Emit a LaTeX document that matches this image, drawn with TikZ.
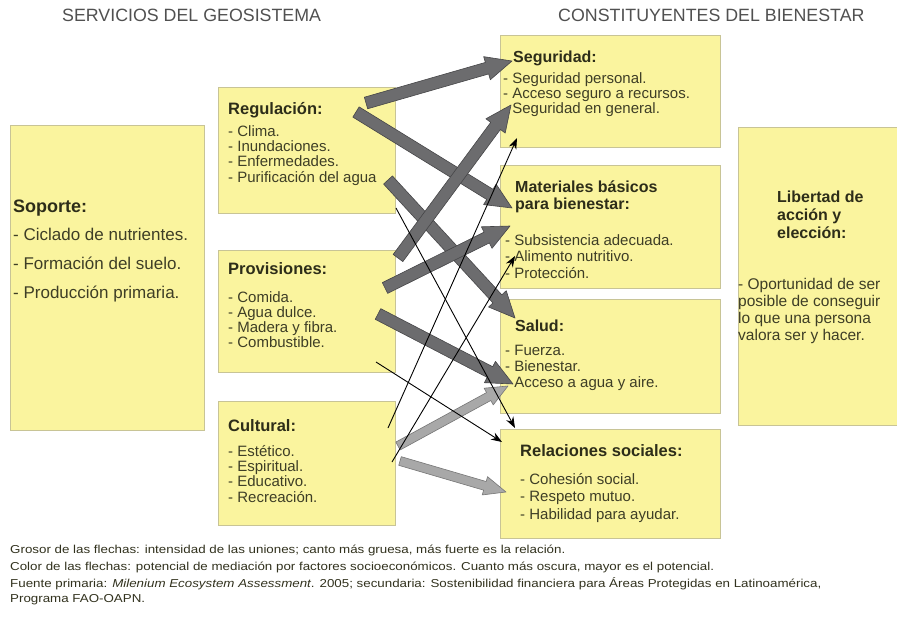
\documentclass[tikz,border=0pt]{standalone}
\usepackage{fontspec}
\usepackage{graphicx}
\setmainfont{Liberation Sans}
\usetikzlibrary{calc,arrows.meta}
\definecolor{boxfill}{RGB}{250,244,158}
\definecolor{boxline}{RGB}{200,196,150}
\definecolor{ttl}{RGB}{45,45,25}
\definecolor{itm}{RGB}{62,62,38}
\definecolor{hdr}{RGB}{80,80,80}
\definecolor{darkfill}{RGB}{108,108,110}
\definecolor{darkline}{RGB}{70,70,72}
\definecolor{lightfill}{RGB}{168,168,168}
\definecolor{lightline}{RGB}{118,118,118}
\newcommand\blk[3]{\fontsize{#1}{#2}\selectfont\begin{tabular}[t]{@{}l@{}}#3\end{tabular}}
\newcommand\foottext[1]{\scalebox{1.16}[1]{#1}}
\newcommand\fatarrow[6]{%
  \coordinate (fa-h) at ($(#2)!#5!(#1)$);
  \draw[#6] ($(#1)!#3!90:(#2)$) -- ($(fa-h)!#3!90:(#2)$) -- ($(fa-h)!#4!90:(#2)$) -- (#2) -- ($(fa-h)!#4!-90:(#2)$) -- ($(fa-h)!#3!-90:(#2)$) -- ($(#1)!#3!-90:(#2)$) -- cycle;}
\begin{document}
\begin{tikzpicture}[x=1pt,y=-1pt,
  box/.style={draw=boxline, fill=boxfill, line width=0.8pt, anchor=north west, inner sep=0pt},
  ttlnode/.style={anchor=base west, inner sep=0pt, text=ttl, font=\fontsize{16}{17}\selectfont\bfseries},
  itmnode/.style={anchor=base west, inner sep=0pt, text=itm},
  hdrnode/.style={anchor=base west, inner sep=0pt, text=hdr, font=\fontsize{17.8}{19}\selectfont},
  footnode/.style={anchor=base west, inner sep=0pt, text=itm!80!black, font=\fontsize{11.5}{13}\selectfont},
  thickarr/.style={fill=darkfill, draw=darkline, line width=0.6pt, line join=round},
  midarr/.style={fill=lightfill, draw=lightline, line width=0.6pt, line join=round},
  thinarr/.style={draw=black, line width=0.9pt, -{Stealth[length=11pt,width=8pt]}}]
\clip (0,0) rectangle (897,621);
\fill[white] (0,0) rectangle (897,621);

% headers
\node[hdrnode] (h1) at (62,21) {SERVICIOS DEL GEOSISTEMA};
\node[hdrnode] (h2) at (558,21) {CONSTITUYENTES DEL BIENESTAR};

% boxes
\node[box, minimum width=194, minimum height=305] (sop) at (10,125) {};
\node[box, minimum width=177, minimum height=126] (reg) at (218,87) {};
\node[box, minimum width=177, minimum height=122] (prov) at (218,250) {};
\node[box, minimum width=177, minimum height=124] (cult) at (218,401) {};
\node[box, minimum width=220, minimum height=112] (seg) at (500,35) {};
\node[box, minimum width=220, minimum height=123] (mat) at (500,165) {};
\node[box, minimum width=220, minimum height=114] (sal) at (500,299) {};
\node[box, minimum width=220, minimum height=109] (rel) at (500,429) {};
\node[box, minimum width=180, minimum height=298] (lib) at (738,127) {};

% texts
\node[ttlnode, font=\fontsize{18}{19}\selectfont\bfseries] (sopT) at (13,212) {Soporte:};
\node[itmnode] (sopI) at (13,240) {\blk{17}{29}{- Ciclado de nutrientes.\\- Formación del suelo.\\- Producción primaria.}};

\node[ttlnode, font=\fontsize{16.5}{17}\selectfont\bfseries] (regT) at (228,114) {Regulación:};
\node[itmnode] (regI) at (228,136) {\blk{15}{14.7}{- Clima.\\- Inundaciones.\\- Enfermedades.\\- Purificación del agua}};

\node[ttlnode, font=\fontsize{16.5}{17}\selectfont\bfseries] (provT) at (228,274) {Provisiones:};
\node[itmnode] (provI) at (228,302) {\blk{15}{14.7}{- Comida.\\- Agua dulce.\\- Madera y fibra.\\- Combustible.}};

\node[ttlnode, font=\fontsize{16.5}{17}\selectfont\bfseries] (cultT) at (228,431) {Cultural:};
\node[itmnode] (cultI) at (228,456) {\blk{15}{14.7}{- Estético.\\- Espiritual.\\- Educativo.\\- Recreación.}};

\node[ttlnode] (segT) at (513,62) {Seguridad:};
\node[itmnode] (segI) at (503,83) {\blk{15}{15}{- Seguridad personal.\\- Acceso seguro a recursos.\\- Seguridad en general.}};

\node[ttlnode] (matT) at (515,192) {\blk{16}{17}{\bfseries Materiales básicos\\\bfseries para bienestar:}};
\node[itmnode] (matI) at (505,245) {\blk{15}{16.5}{- Subsistencia adecuada.\\- Alimento nutritivo.\\- Protección.}};

\node[ttlnode] (salT) at (515,331) {Salud:};
\node[itmnode] (salI) at (505,355) {\blk{15}{16.3}{- Fuerza.\\- Bienestar.\\- Acceso a agua y aire.}};

\node[ttlnode, font=\fontsize{16.5}{17}\selectfont\bfseries] (relT) at (520,456) {Relaciones sociales:};
\node[itmnode] (relI) at (520,484) {\blk{15}{17.5}{- Cohesión social.\\- Respeto mutuo.\\- Habilidad para ayudar.}};

\node[ttlnode] (libT) at (777,202) {\blk{16}{18}{\bfseries Libertad de\\\bfseries acción y\\\bfseries elección:}};
\node[itmnode] (libI) at (738,289) {\blk{15.5}{17}{- Oportunidad de ser\\posible de conseguir\\lo que una persona\\valora ser y hacer.}};

% arrow end points
\coordinate (a1s) at (366,103); \coordinate (a1e) at (512,61);
\coordinate (a2s) at (356,112); \coordinate (a2e) at (512,208);
\coordinate (a3s) at (388,180); \coordinate (a3e) at (515,318);
\coordinate (a4s) at (398,258); \coordinate (a4e) at (511,105);
\coordinate (a5s) at (385,288); \coordinate (a5e) at (510,226);
\coordinate (a6s) at (378,314); \coordinate (a6e) at (513,384);
\coordinate (a7s) at (398,446); \coordinate (a7e) at (508,386);
\coordinate (a8s) at (400,461); \coordinate (a8e) at (506,492);
\coordinate (t9s) at (396,208); \coordinate (t9e) at (515,428);
\coordinate (t10s) at (388,428); \coordinate (t10e) at (517,138);
\coordinate (t11s) at (392,462); \coordinate (t11e) at (515,256);
\coordinate (t12s) at (376,362); \coordinate (t12e) at (502,442);

% thick arrows
\fatarrow{a1s}{a1e}{6pt}{12pt}{26pt}{thickarr}
\fatarrow{a2s}{a2e}{6pt}{12pt}{26pt}{thickarr}
\fatarrow{a3s}{a3e}{6pt}{12pt}{26pt}{thickarr}
\fatarrow{a4s}{a4e}{6pt}{12pt}{26pt}{thickarr}
\fatarrow{a5s}{a5e}{6pt}{12pt}{26pt}{thickarr}
\fatarrow{a6s}{a6e}{6pt}{12pt}{26pt}{thickarr}
% lighter arrows
\fatarrow{a7s}{a7e}{4.5pt}{9.5pt}{22pt}{midarr}
\fatarrow{a8s}{a8e}{4.5pt}{9.5pt}{22pt}{midarr}
% thin arrows
\draw[thinarr] (t9s) -- (t9e);
\draw[thinarr] (t10s) -- (t10e);
\draw[thinarr] (t11s) -- (t11e);
\draw[thinarr] (t12s) -- (t12e);

% footnotes
\node[footnode] (f1) at (10,553) {\foottext{Grosor de las flechas: intensidad de las uniones; canto más gruesa, más fuerte es la relación.}};
\node[footnode] (f2) at (10,570) {\foottext{Color de las flechas: potencial de mediación por factores socioeconómicos. Cuanto más oscura, mayor es el potencial.}};
\node[footnode] (f3) at (10,587) {\foottext{Fuente primaria: \textit{Milenium Ecosystem Assessment}. 2005; secundaria: Sostenibilidad financiera para Áreas Protegidas en Latinoamérica,}};
\node[footnode] (f4) at (10,602) {\foottext{Programa FAO-OAPN.}};
\end{tikzpicture}
\end{document}
